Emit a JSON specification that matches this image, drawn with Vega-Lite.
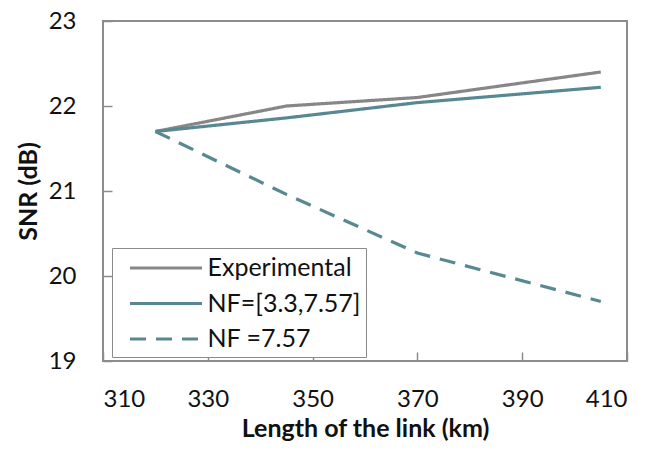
{
  "$schema": "https://vega.github.io/schema/vega-lite/v6.json",
  "autosize": "none",
  "width": 524,
  "height": 340,
  "padding": {"left": 103, "top": 21, "right": 24, "bottom": 89},
  "background": "white",
  "config": {
    "view": {"stroke": "#8c8c8c", "strokeWidth": 2},
    "font": "Lato",
    "axis": {"grid": false, "domain": false, "offset": -9, "tickColor": "#8c8c8c", "tickWidth": 1.5, "tickSize": 9, "labelFont": "Lato", "labelFontSize": 24, "labelColor": "#111", "titleFont": "Lato", "titleFontSize": 25, "titleFontWeight": "bold", "titleColor": "#111"}
  },
  "data": {
    "values": [
      {"km": 320, "snr": 21.7, "series": "Experimental"},
      {"km": 345, "snr": 22.0, "series": "Experimental"},
      {"km": 370, "snr": 22.1, "series": "Experimental"},
      {"km": 405, "snr": 22.4, "series": "Experimental"},
      {"km": 320, "snr": 21.7, "series": "NF=[3.3,7.57]"},
      {"km": 345, "snr": 21.86, "series": "NF=[3.3,7.57]"},
      {"km": 370, "snr": 22.04, "series": "NF=[3.3,7.57]"},
      {"km": 405, "snr": 22.22, "series": "NF=[3.3,7.57]"},
      {"km": 320, "snr": 21.7, "series": "NF =7.57"},
      {"km": 345, "snr": 20.96, "series": "NF =7.57"},
      {"km": 370, "snr": 20.27, "series": "NF =7.57"},
      {"km": 405, "snr": 19.7, "series": "NF =7.57"}
    ]
  },
  "mark": {"type": "line", "strokeWidth": 3.2},
  "encoding": {
    "x": {"field": "km", "type": "quantitative", "scale": {"domain": [310, 410], "nice": false, "zero": false}, "axis": {"values": [310, 330, 350, 370, 390, 410], "title": "Length of the link (km)", "labelPadding": 26, "titlePadding": 5}},
    "y": {"field": "snr", "type": "quantitative", "scale": {"domain": [19, 23], "nice": false, "zero": false}, "axis": {"values": [19, 20, 21, 22, 23], "title": "SNR (dB)", "labelPadding": 27, "titlePadding": 7}},
    "color": {"field": "series", "type": "nominal", "scale": {"domain": ["Experimental", "NF=[3.3,7.57]", "NF =7.57"], "range": ["#878787", "#588891", "#588891"]}, "legend": {"title": null, "orient": "none", "legendX": 9, "legendY": 227, "strokeColor": "#8c8c8c", "fillColor": "white", "padding": 5, "symbolType": "M-2.77,0H2.77", "symbolSize": 676, "symbolOffset": 34, "symbolStrokeWidth": 3.2, "labelFont": "Lato", "labelFontSize": 25, "labelColor": "#111", "rowPadding": 7.5, "labelOffset": 26.5, "labelLimit": 300}},
    "strokeDash": {"field": "series", "type": "nominal", "scale": {"domain": ["Experimental", "NF=[3.3,7.57]", "NF =7.57"], "range": [[1, 0], [1, 0], [16, 10]]}}
  }
}
